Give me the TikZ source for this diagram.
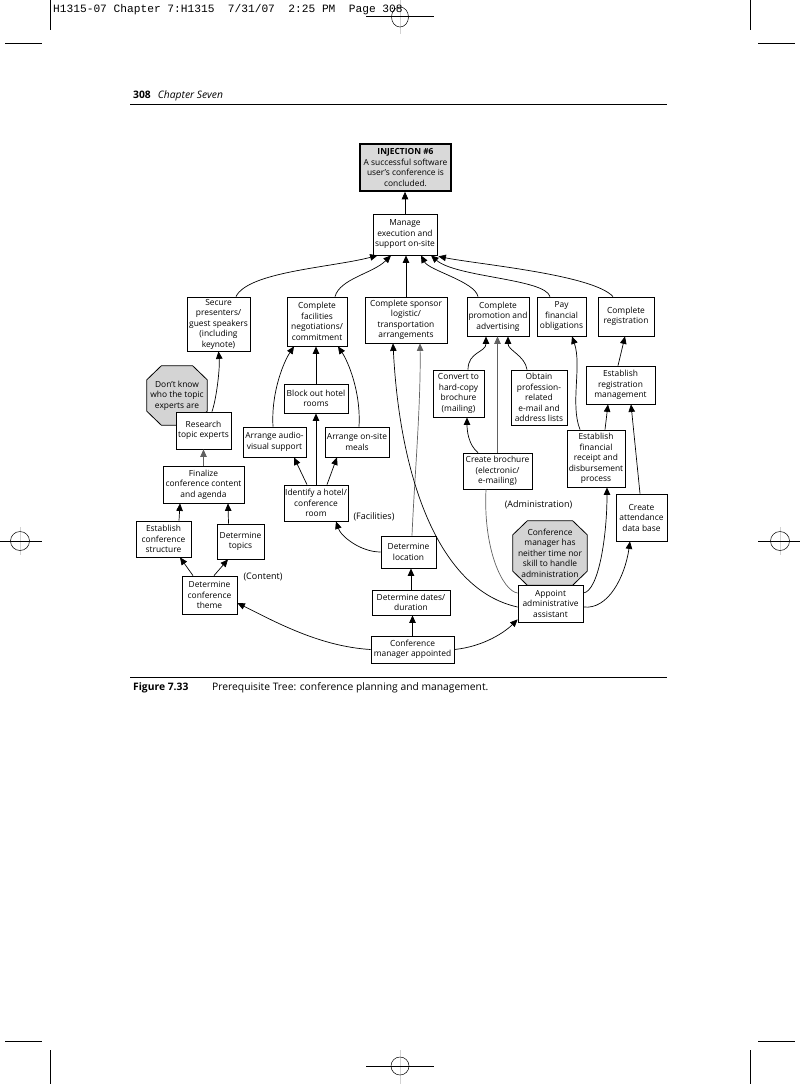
\documentclass[tikz,border=0pt]{standalone}
\usepackage{fontspec}
\setmainfont{Open Sans}
\newfontfamily\hdrmono{Liberation Mono}
\usetikzlibrary{arrows.meta,backgrounds}
\definecolor{octgray}{gray}{0.83}
\definecolor{injgray}{gray}{0.85}
\definecolor{linegray}{gray}{0.38}
\newcommand\bxfont{\fontsize{8.4}{10.5}\selectfont}
\newcommand\lblfont{\fontsize{9}{11}\selectfont}
\begin{document}
\begin{tikzpicture}[x=1pt,y=-1pt,
  box/.style={draw, line width=0.8pt, fill=white, align=center, inner sep=1pt, font=\bxfont},
  octtext/.style={align=center, inner sep=0pt, font=\bxfont},
  octline/.style={draw, line width=0.8pt, fill=octgray},
  arr/.style={-{Triangle[length=7.5pt,width=6.5pt]}, line width=0.7pt},
  lbl/.style={font=\lblfont, inner sep=0pt},
  cropline/.style={line width=0.6pt}]
\useasboundingbox (0,0) rectangle (800,1084);

% printer marks
\draw[cropline] (50,0) -- (50,30);
\draw[cropline] (750,0) -- (750,30);
\draw[cropline] (5,43) -- (42,43);
\draw[cropline] (758,43) -- (795,43);
\draw[cropline] (50,1050) -- (50,1084);
\draw[cropline] (750,1050) -- (750,1084);
\draw[cropline] (5,1041) -- (42,1041);
\draw[cropline] (758,1041) -- (795,1041);
\draw[gray!35, line width=0.8pt] (400,0) -- (400,34);
\draw[line width=0.5pt] (400,17) ellipse [x radius=8.5pt, y radius=10pt];
\draw[cropline] (366,16) -- (434,16);
\draw[gray!35, line width=0.8pt] (400,1050) -- (400,1084);
\draw[line width=0.5pt] (400,1066) circle [radius=9pt];
\draw[cropline] (366,1066) -- (434,1066);
\draw[gray!35, line width=0.8pt] (20,527) -- (20,555);
\draw[line width=0.5pt] (20,541) circle [radius=9.5pt];
\draw[cropline] (0,541) -- (42,541);
\draw[gray!35, line width=0.8pt] (780,527) -- (780,555);
\draw[line width=0.5pt] (780,541) circle [radius=9.5pt];
\draw[cropline] (758,541) -- (800,541);

\node[anchor=west, inner sep=0pt, font=\hdrmono\fontsize{11.2}{12}\selectfont] (hdr) at (53,10)
  {H1315-07 Chapter 7:H1315\ \ 7/31/07\ \ 2:25 PM\ \ Page 308};

% page header
\node[anchor=west, inner sep=0pt, font=\fontsize{10.3}{12}\selectfont] (pghead) at (133,96)
  {\textbf{308}\hspace{7pt}\textit{Chapter Seven}};
\draw[line width=0.8pt] (130,104) -- (667,104);

% caption
\draw[line width=0.8pt] (130,677) -- (667,677);
\node[anchor=west, inner sep=0pt, font=\fontsize{10.3}{12}\selectfont] (capfig) at (133,688) {\textbf{Figure 7.33}};
\node[anchor=west, inner sep=0pt, font=\fontsize{10.3}{12}\selectfont] (captxt) at (212,688)
  {Prerequisite Tree: conference planning and management.};

% nodes
\node[box, minimum width=91pt, minimum height=47pt, fill=injgray, line width=1.6pt] (inj) at (405.5,167.5)
  {\textbf{INJECTION \#6}\\A successful software\\user’s conference is\\concluded.};
\node[box, minimum width=64pt, minimum height=41pt] (manage) at (405,234.5) {Manage\\execution and\\support on-site};
\node[box, minimum width=63pt, minimum height=54pt] (secure) at (218.5,324) {Secure\\presenters/\\guest speakers\\(including\\keynote)};
\node[box, minimum width=60pt, minimum height=49pt] (facil) at (317,321.5) {Complete\\facilities\\negotiations/\\commitment};
\node[box, minimum width=82pt, minimum height=46pt] (sponsor) at (406,320) {Complete sponsor\\logistic/\\transportation\\arrangements};
\node[box, minimum width=62pt, minimum height=39pt] (promo) at (498,316.5) {Complete\\promotion and\\advertising};
\node[box, minimum width=49pt, minimum height=39pt] (pay) at (561.5,316.5) {Pay\\financial\\obligations};
\node[box, minimum width=56pt, minimum height=39pt] (reg) at (626,316.5) {Complete\\registration};

\node[octtext, minimum width=60pt, minimum height=59pt] (octA) at (177,395.5) {Don’t know\\who the topic\\experts are};
\node[octtext, minimum width=74pt, minimum height=64pt] (octB) at (550,553) {Conference\\manager has\\neither time nor\\skill to handle\\administration};
\begin{scope}[on background layer]
\foreach \o in {octA,octB} {
  \path[octline] ([xshift=14.5pt]\o.north west) -- ([xshift=-14.5pt]\o.north east)
    -- ([yshift=-14pt]\o.north east) -- ([yshift=14pt]\o.south east)
    -- ([xshift=-14.5pt]\o.south east) -- ([xshift=14.5pt]\o.south west)
    -- ([yshift=14pt]\o.south west) -- ([yshift=-14pt]\o.north west) -- cycle;
}
\end{scope}

\node[box, minimum width=55pt, minimum height=37pt] (research) at (203.5,430.5) {Research\\topic experts};
\node[box, minimum width=81pt, minimum height=37pt] (finalize) at (203.5,484.5) {Finalize\\conference content\\and agenda};
\node[box, minimum width=55pt, minimum height=36pt] (structure) at (163.5,539) {Establish\\conference\\structure};
\node[box, minimum width=47pt, minimum height=35pt] (topics) at (240.5,541.5) {Determine\\topics};
\node[box, minimum width=55pt, minimum height=38pt] (theme) at (209.5,595) {Determine\\conference\\theme};
\node[box, minimum width=64pt, minimum height=29pt] (blockout) at (316,398.5) {Block out hotel\\rooms};
\node[box, minimum width=63pt, minimum height=30pt] (audio) at (274.5,442) {Arrange audio-\\visual support};
\node[box, minimum width=64pt, minimum height=30pt] (meals) at (357,442) {Arrange on-site\\meals};
\node[box, minimum width=64pt, minimum height=36pt] (identify) at (316,503) {Identify a hotel/\\conference\\room};
\node[box, minimum width=55pt, minimum height=32pt] (location) at (408.5,552) {Determine\\location};
\node[box, minimum width=78pt, minimum height=25pt] (dates) at (411,602.5) {Determine dates/\\duration};
\node[box, minimum width=83pt, minimum height=27pt] (confmgr) at (412.5,649.5) {Conference\\manager appointed};
\node[box, minimum width=51pt, minimum height=47pt] (convert) at (458.5,393.5) {Convert to\\hard-copy\\brochure\\(mailing)};
\node[box, minimum width=56pt, minimum height=55pt] (obtain) at (539,397.5) {Obtain\\profession-\\related\\e-mail and\\address lists};
\node[box, minimum width=69pt, minimum height=36pt] (brochure) at (497.5,471) {Create brochure\\(electronic/\\e-mailing)};
\node[box, minimum width=69pt, minimum height=38pt] (regmgmt) at (620.5,385) {Establish\\registration\\management};
\node[box, minimum width=58pt, minimum height=57pt] (financial) at (596,458.5) {Establish\\financial\\receipt and\\disbursement\\process};
\node[box, minimum width=51pt, minimum height=47pt] (attend) at (641.5,517.5) {Create\\attendance\\data base};
\node[box, minimum width=65pt, minimum height=37pt] (appoint) at (550.5,603.5) {Appoint\\administrative\\assistant};

\node[lbl] (facl) at (374,517) {(Facilities)};
\node[lbl] (contl) at (263,577) {(Content)};
\node[lbl] (adml) at (538.5,505) {(Administration)};

% connectors
\draw[arr] (manage.north) -- (manage.north |- inj.south);
\draw[arr] ([xshift=17.5pt]secure.north) .. controls +(12,-25) and +(-45,12) .. ([xshift=5pt]manage.south west);
\draw[arr] ([xshift=18pt]facil.north) .. controls +(5,-18) and +(-18,18) .. ([xshift=-14pt]manage.south);
\draw[arr] (sponsor.north) -- (sponsor.north |- manage.south);
\draw[arr] ([xshift=-20pt]promo.north) .. controls +(-3,-15) and +(8,15) .. ([xshift=16pt]manage.south);
\draw[arr] ([xshift=-11.5pt]pay.north) .. controls +(-5,-18) and +(25,22) .. ([xshift=26pt]manage.south);
\draw[arr] ([xshift=-13pt]reg.north) .. controls +(-20,-22) and +(40,8) .. ([xshift=1pt,yshift=-1pt]manage.south east);

\draw[arr] ([xshift=8.5pt]research.north) .. controls +(5,-15) and +(1.5,15) .. (secure.south);
\draw[arr, draw=linegray] (finalize.north) -- (research.south);
\draw[arr] ([xshift=15.5pt]structure.north) -- ([xshift=-23.5pt]finalize.south);
\draw[arr] ([xshift=-12pt]topics.north) -- ([xshift=24.5pt]finalize.south);
\draw[arr] ([xshift=-16.5pt]theme.north) -- ([xshift=16.5pt]structure.south);
\draw[arr] ([xshift=4.5pt]theme.north) -- ([xshift=-12.5pt]topics.south);
\draw[arr] (confmgr.west) .. controls +(-50,-3) and +(40,20) .. ([yshift=-8pt]theme.east);

\draw[arr] (blockout.north) -- (blockout.north |- facil.south);
\draw[arr] ([xshift=-1.5pt]audio.north) .. controls +(-2,-35) and +(-10,15) .. ([xshift=-23pt]facil.south);
\draw[arr] ([xshift=2pt]meals.north) .. controls +(2,-35) and +(10,15) .. ([xshift=21pt]facil.south);
\draw[arr] (identify.north) -- (blockout.south);
\draw[arr] ([xshift=-9pt]identify.north) -- ([xshift=19.5pt]audio.south);
\draw[arr] ([xshift=11pt]identify.north) -- ([xshift=-20pt]meals.south);
\draw[arr] (location.west) .. controls +(-20,0) and +(5,15) .. ([xshift=20pt]identify.south);
\draw[arr, draw=linegray] ([xshift=3.5pt]location.north) .. controls +(2,-50) and +(1,60) .. ([xshift=14pt]sponsor.south);
\draw[arr] (dates.north) -- (dates.north |- location.south);
\draw[arr] (confmgr.north) -- (confmgr.north |- dates.south);
\draw[arr] (confmgr.east) .. controls +(30,-3) and +(-12,12) .. ([yshift=3pt]appoint.south west);
\draw[arr] ([yshift=-3.5pt]appoint.west) .. controls +(-78,-17) and +(7,137) .. ([xshift=-13pt]sponsor.south);
\draw[line width=0.7pt, draw=linegray] ([yshift=10.5pt]appoint.west) .. controls +(-15,-2) and +(-3,60) .. ([xshift=-11.5pt]brochure.south);
\draw[arr, draw=linegray] (brochure.north) -- (brochure.north |- promo.south);
\draw[arr] ([xshift=-19.5pt]brochure.north) .. controls +(-10,-8) and +(0,12) .. ([xshift=8.5pt]convert.south);
\draw[arr] ([xshift=9.5pt]convert.north) .. controls +(0,-18) and +(0,16) .. ([xshift=-12pt]promo.south);
\draw[arr] ([xshift=-12pt]obtain.north) .. controls +(-2,-14) and +(0,14) .. ([xshift=10pt]promo.south);
\draw[arr] ([xshift=-16pt]financial.north) .. controls +(-10,-25) and +(10,29) .. ([xshift=10.5pt]pay.south);
\draw[arr] ([xshift=-2.5pt]regmgmt.north) -- ([xshift=-1pt]reg.south);
\draw[arr] ([xshift=9pt]financial.north) -- ([xshift=-12.5pt]regmgmt.south);
\draw[arr] ([xshift=-1.5pt]attend.north) -- ([xshift=10.5pt]regmgmt.south);
\draw[arr] ([yshift=10.5pt]appoint.east) .. controls +(15,-2) and +(0,50) .. ([xshift=11pt]financial.south);
\draw[arr] ([yshift=-3.5pt]appoint.east) .. controls +(25,3) and +(-5,35) .. ([xshift=-11.5pt]attend.south);
\end{tikzpicture}
\end{document}
